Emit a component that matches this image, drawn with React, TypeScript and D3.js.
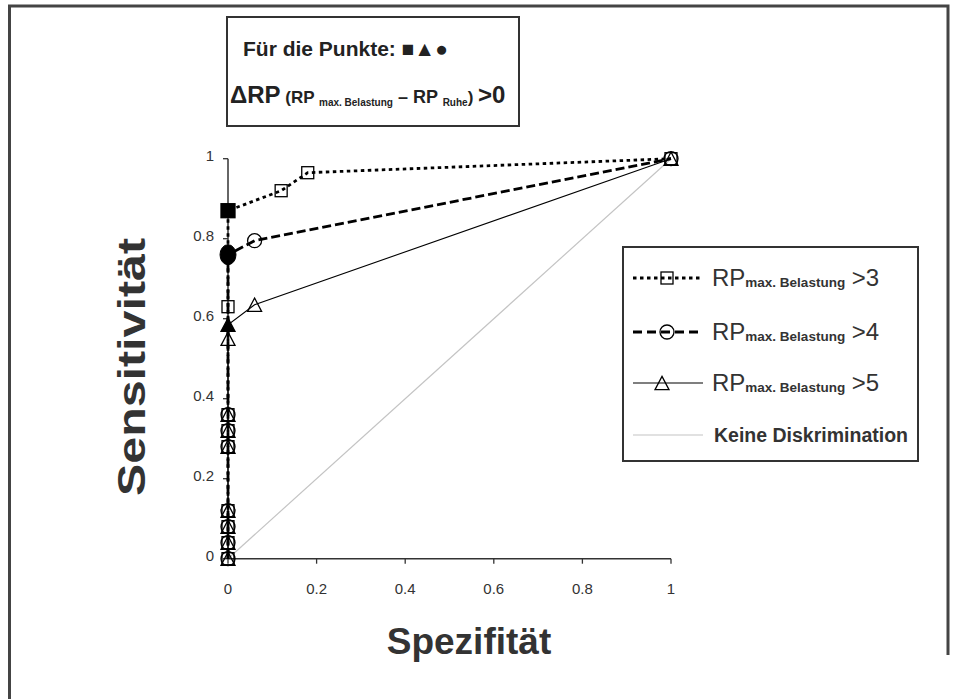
import React from "react";
import * as d3 from "d3";

const W = 958;
const H = 699;

const xTicks = [0, 0.2, 0.4, 0.6, 0.8, 1];
const yTicks = [0, 0.2, 0.4, 0.6, 0.8, 1];
const xTickLabels = ["0", "0.2", "0.4", "0.6", "0.8", "1"];
const yTickLabels = ["0", "0.2", "0.4", "0.6", "0.8", "1"];

// Series RP max. Belastung > 3 (squares, dotted)
const s3x = [0, 0, 0, 0, 0, 0, 0, 0, 0, 0.12, 0.18, 1];
const s3y = [0, 0.04, 0.08, 0.12, 0.28, 0.32, 0.36, 0.63, 0.87, 0.92, 0.965, 1];
const s3hollow = [true, true, true, true, true, true, true, true, false, true, true, true];

// Series > 4 (circles, dashed)
const s4x = [0, 0, 0, 0, 0, 0, 0, 0, 0.06, 1];
const s4y = [0, 0.04, 0.08, 0.12, 0.28, 0.32, 0.36, 0.76, 0.795, 1];
const s4hollow = [true, true, true, true, true, true, true, false, true, true];

// Series > 5 (triangles, solid)
const s5x = [0, 0, 0, 0, 0, 0, 0, 0, 0, 0.06, 1];
const s5y = [0, 0.04, 0.08, 0.12, 0.28, 0.32, 0.36, 0.55, 0.585, 0.635, 1];
const s5hollow = [true, true, true, true, true, true, true, true, false, true, true];

// Keine Diskrimination (diagonal)
const diagX = [0, 1];
const diagY = [0, 1];

const legendSuffix = [">3", ">4", ">5"];

const x = d3.scaleLinear().domain([0, 1]).range([228, 671]);
const y = d3.scaleLinear().domain([0, 1]).range([558.7, 158.7]);

const line = d3
  .line<[number, number]>()
  .x((d) => x(d[0]))
  .y((d) => y(d[1]));

const zip = (a: number[], b: number[]): [number, number][] => a.map((v, i) => [v, b[i]]);

function Square({ cx, cy, filled, s = 12 }: { cx: number; cy: number; filled: boolean; s?: number }) {
  return (
    <rect
      x={cx - s / 2}
      y={cy - s / 2}
      width={s}
      height={s}
      fill={filled ? "#000" : "none"}
      stroke="#000"
      strokeWidth={1.3}
    />
  );
}
function Circle({ cx, cy, filled }: { cx: number; cy: number; filled: boolean }) {
  return filled ? (
    <ellipse cx={cx} cy={cy} rx={8} ry={10} fill="#000" stroke="#000" />
  ) : (
    <circle cx={cx} cy={cy} r={7} fill="none" stroke="#000" strokeWidth={1.3} />
  );
}
function Tri({ cx, cy, filled, s = 14 }: { cx: number; cy: number; filled: boolean; s?: number }) {
  const h = s * 0.95;
  const p = `M${cx},${cy - h / 2}L${cx + s / 2},${cy + h / 2}L${cx - s / 2},${cy + h / 2}Z`;
  return <path d={p} fill={filled ? "#000" : "none"} stroke="#000" strokeWidth={1.3} />;
}

export default function App() {
  const s3 = zip(s3x, s3y);
  const s4 = zip(s4x, s4y);
  const s5 = zip(s5x, s5y);
  const diag = zip(diagX, diagY);
  const font = "Liberation Sans, Arial, Helvetica, sans-serif";
  const legendRows = [278, 332, 383];
  return (
    <svg
      width={W}
      height={H}
      style={{ position: "absolute", left: 0, top: 0, background: "#fff" }}
      fontFamily={font}
    >
      {/* outer frame */}
      <path d="M9.5,699 L9.5,6 L948,6 L948,655" fill="none" stroke="#444" strokeWidth={3} />

      {/* title box */}
      <rect x={227} y={17} width={292} height={109} fill="#fff" stroke="#333" strokeWidth={2} />
      <text x={243} y={56} fontSize={21} fontWeight="bold" fill="#222">
        Für die Punkte: ■▲●
      </text>
      <text x={230} y={103} fontWeight="bold" fill="#222">
        <tspan fontSize={24}>ΔRP</tspan>
        <tspan fontSize={17}> (RP </tspan>
        <tspan fontSize={10} dy={3}>max. Belastung</tspan>
        <tspan fontSize={18} dy={-3}> – RP </tspan>
        <tspan fontSize={10} dy={3}>Ruhe</tspan>
        <tspan fontSize={17} dy={-3}>) </tspan>
        <tspan fontSize={24}>&gt;0</tspan>
      </text>

      {/* diagonal */}
      <path d={line(diag) || ""} fill="none" stroke="#c4c4c4" strokeWidth={1.2} />

      {/* axes */}
      <line x1={x(0)} x2={x(1)} y1={y(0)} y2={y(0)} stroke="#333" strokeWidth={1.5} />
      <line x1={x(0)} x2={x(0)} y1={y(0)} y2={y(1)} stroke="#333" strokeWidth={1.5} />
      {xTicks.map((t, i) => (
        <g key={"xt" + i}>
          <line x1={x(t)} x2={x(t)} y1={y(0)} y2={y(0) + 5} stroke="#333" strokeWidth={1.3} />
          <text x={x(t)} y={y(0) + 35} fontSize={15} textAnchor="middle" fill="#333">
            {xTickLabels[i]}
          </text>
        </g>
      ))}
      {yTicks.map((t, i) => (
        <g key={"yt" + i}>
          <line x1={x(0) - 5} x2={x(0)} y1={y(t)} y2={y(t)} stroke="#333" strokeWidth={1.3} />
          <text x={x(0) - 14} y={y(t) + 2} fontSize={15} textAnchor="end" fill="#333">
            {yTickLabels[i]}
          </text>
        </g>
      ))}

      {/* series lines */}
      <path d={line(s5) || ""} fill="none" stroke="#000" strokeWidth={1.1} />
      <path d={line(s4) || ""} fill="none" stroke="#000" strokeWidth={2.8} strokeDasharray="9,4" />
      <path d={line(s3) || ""} fill="none" stroke="#000" strokeWidth={2.8} strokeDasharray="3.5,3.5" />

      {/* markers */}
      {s5.map((d, i) => (
        <Tri key={"t" + i} cx={x(d[0])} cy={y(d[1])} filled={!s5hollow[i]} />
      ))}
      {s4.map((d, i) => (
        <Circle key={"c" + i} cx={x(d[0])} cy={y(d[1])} filled={!s4hollow[i]} />
      ))}
      {s3.map((d, i) => (
        <Square key={"s" + i} cx={x(d[0])} cy={y(d[1])} filled={!s3hollow[i]} s={s3hollow[i] ? 12 : 14} />
      ))}

      {/* legend */}
      <rect x={623} y={247} width={295} height={214} fill="#fff" stroke="#333" strokeWidth={2} />
      {legendRows.map((ry, i) => (
        <g key={"lg" + i}>
          <line
            x1={633}
            x2={703}
            y1={ry}
            y2={ry}
            stroke="#000"
            strokeWidth={i === 2 ? 1.1 : 2.8}
            strokeDasharray={i === 0 ? "3.5,3.5" : i === 1 ? "9,5" : undefined}
          />
          {i === 0 && <Square cx={667} cy={ry} filled={false} />}
          {i === 1 && <Circle cx={667} cy={ry} filled={false} />}
          {i === 2 && <Tri cx={662} cy={ry} filled={false} />}
          <text x={712} y={ry + 8} fill="#333">
            <tspan fontSize={24}>RP</tspan>
            <tspan fontSize={13.5} fontWeight="bold" dy={1}>max. Belastung</tspan>
            <tspan fontSize={24} dy={-1}> {legendSuffix[i]}</tspan>
          </text>
        </g>
      ))}
      <line x1={633} x2={703} y1={435} y2={435} stroke="#c4c4c4" strokeWidth={1.2} />
      <text x={714} y={442} fontSize={19.5} fontWeight="bold" fill="#333">
        Keine Diskrimination
      </text>

      {/* axis titles */}
      <text
        transform="translate(145,367) rotate(-90)"
        textAnchor="middle"
        fontSize={38}
        fontWeight="bold"
        fill="#333"
        textLength={258}
        lengthAdjust="spacingAndGlyphs"
      >
        Sensitivität
      </text>
      <text x={469} y={654} textAnchor="middle" fontSize={37} fontWeight="bold" fill="#333">
        Spezifität
      </text>
    </svg>
  );
}
